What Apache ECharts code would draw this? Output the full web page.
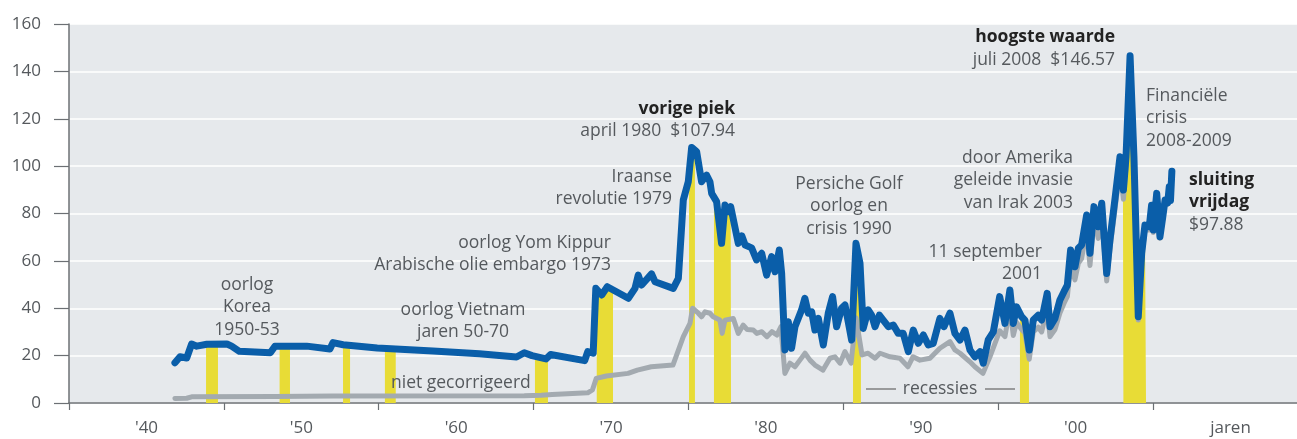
<!DOCTYPE html>
<html>
<head>
<meta charset="utf-8">
<script src="https://cdn.jsdelivr.net/npm/echarts@6.0.0/dist/echarts.min.js"></script>
<style>
  html, body { margin: 0; padding: 0; background: #fff; }
  #chart { width: 1297px; height: 439px; }
</style>
</head>
<body>
<div id="chart"></div>
<script>
// olieprijs gecorrigeerd voor inflatie (dollar), [jaar, prijs]
const realPrice = [
  [1946.84, 17.0], [1947.17, 19.5], [1947.6, 19.0], [1947.92, 24.9], [1948.25, 24.0], [1948.9, 24.8],
  [1950.2, 24.9], [1950.5, 24.0], [1951.0, 21.8], [1953.0, 21.2], [1953.3, 24.0], [1955.35, 24.0],
  [1956.85, 22.8], [1957.05, 25.5], [1957.7, 24.6], [1959.9, 23.2], [1963.5, 22.0], [1966.5, 20.8],
  [1968.9, 19.4], [1969.4, 21.2], [1969.9, 20.0], [1970.8, 18.6], [1971.1, 20.5], [1973.3, 17.9],
  [1973.5, 21.7], [1973.85, 21.0], [1974.02, 48.4], [1974.4, 45.6], [1974.76, 49.1], [1976.12, 44.2],
  [1976.55, 48.4], [1976.76, 54.0], [1976.98, 49.8], [1977.62, 54.5], [1977.84, 51.2], [1979.02, 48.4],
  [1979.35, 52.6], [1979.67, 85.7], [1979.99, 93.4], [1980.21, 107.9], [1980.53, 106.1], [1980.85, 93.4],
  [1981.17, 96.2], [1981.39, 93.4], [1981.5, 88.5], [1981.82, 85.0], [1982.14, 67.4], [1982.36, 83.6],
  [1982.57, 80.8], [1982.73, 82.9], [1983.22, 67.4], [1983.45, 70.5], [1983.66, 66.7], [1984.08, 65.5],
  [1984.4, 60.4], [1984.73, 63.2], [1985.05, 54.0], [1985.37, 61.8], [1985.59, 55.4], [1985.87, 64.6],
  [1986.02, 54.7], [1986.23, 22.4], [1986.45, 34.3], [1986.66, 23.1], [1986.88, 32.2], [1987.09, 35.7],
  [1987.31, 39.3], [1987.52, 44.2], [1987.74, 37.9], [1987.96, 38.5], [1988.17, 30.8], [1988.39, 35.7],
  [1988.71, 24.5], [1989.03, 37.9], [1989.31, 44.9], [1989.57, 32.2], [1989.89, 40.0], [1990.11, 41.4],
  [1990.32, 34.3], [1990.54, 26.6], [1990.82, 67.4], [1991.08, 59.0], [1991.29, 31.5], [1991.61, 39.3],
  [1991.83, 37.1], [1992.05, 32.2], [1992.33, 37.1], [1992.58, 35.0], [1992.91, 32.2], [1993.23, 32.9],
  [1993.55, 29.4], [1993.87, 29.4], [1994.2, 21.7], [1994.52, 30.8], [1994.84, 25.2], [1995.17, 28.7],
  [1995.49, 24.5], [1995.81, 25.2], [1996.24, 35.7], [1996.5, 32.2], [1996.89, 37.9], [1997.21, 29.4],
  [1997.54, 26.6], [1997.86, 30.8], [1998.18, 22.4], [1998.5, 19.5], [1998.83, 21.7], [1999.04, 16.8],
  [1999.36, 26.6], [1999.69, 30.0], [2000.1, 44.9], [2000.44, 33.6], [2000.76, 47.7], [2000.98, 33.6],
  [2001.19, 40.6], [2001.52, 36.4], [2001.73, 35.0], [2002.01, 22.4], [2002.27, 35.0], [2002.59, 37.1],
  [2002.81, 35.0], [2003.17, 46.3], [2003.35, 32.2], [2003.67, 35.7], [2003.99, 43.5], [2004.25, 47.0],
  [2004.47, 49.8], [2004.68, 64.6], [2004.96, 57.5], [2005.18, 65.3], [2005.39, 66.7], [2005.72, 79.4],
  [2005.93, 63.2], [2006.19, 82.9], [2006.47, 74.4], [2006.69, 84.3], [2007.01, 54.7], [2007.22, 68.8],
  [2007.55, 86.4], [2007.87, 104.0], [2008.09, 89.9], [2008.26, 104.0], [2008.52, 146.57], [2008.77, 104.0],
  [2009.05, 36.4], [2009.27, 63.2], [2009.48, 75.1], [2009.76, 74.4], [2009.91, 83.5], [2010.02, 73.0],
  [2010.24, 88.5], [2010.45, 70.2], [2010.62, 78.0], [2010.78, 85.7], [2010.95, 84.5], [2011.05, 91.3],
  [2011.13, 85.5], [2011.22, 97.88]
];

// niet gecorrigeerd (nominaal)
const nominalPrice = [
  [1946.84, 1.9], [1947.6, 2.0], [1947.92, 2.6], [1953.3, 2.7], [1957.05, 3.0], [1969.4, 3.1],
  [1970.5, 3.3], [1971.2, 3.6], [1973.5, 4.3], [1973.8, 5.5], [1974.05, 10.4], [1974.7, 11.4],
  [1976.1, 12.5], [1976.7, 13.9], [1977.6, 15.3], [1979.0, 16.0], [1979.67, 28.0], [1980.1, 33.6],
  [1980.27, 40.0], [1980.64, 37.9], [1980.85, 36.4], [1981.07, 38.5], [1981.39, 37.9], [1981.6, 36.4],
  [1982.03, 35.0], [1982.18, 29.4], [1982.36, 35.0], [1982.9, 35.7], [1983.22, 29.4], [1983.54, 32.9],
  [1983.8, 31.0], [1984.19, 30.8], [1984.42, 29.4], [1984.74, 30.1], [1985.07, 28.0], [1985.39, 30.1],
  [1985.71, 28.7], [1985.97, 32.2], [1986.23, 12.5], [1986.56, 16.8], [1986.88, 15.3], [1987.2, 18.1],
  [1987.53, 21.0], [1987.85, 18.1], [1988.17, 16.0], [1988.69, 13.9], [1989.14, 18.9], [1989.46, 19.5],
  [1989.79, 16.8], [1990.11, 21.7], [1990.5, 16.8], [1990.82, 36.0], [1991.21, 20.3], [1991.6, 21.0],
  [1992.05, 18.9], [1992.37, 21.0], [1993.02, 19.5], [1993.66, 18.9], [1994.18, 15.3], [1994.5, 19.5],
  [1994.95, 18.1], [1995.6, 18.9], [1996.24, 23.1], [1996.89, 25.9], [1997.21, 22.4], [1997.54, 21.0],
  [1998.18, 17.4], [1998.5, 15.3], [1999.02, 12.5], [1999.47, 19.5], [2000.1, 30.5], [2000.44, 28.0],
  [2000.76, 40.0], [2000.98, 28.5], [2001.19, 34.0], [2001.52, 31.0], [2001.73, 29.5], [2002.01, 18.5],
  [2002.27, 30.0], [2002.59, 32.0], [2002.81, 30.0], [2003.17, 40.0], [2003.35, 28.0], [2003.67, 31.0],
  [2003.99, 38.0], [2004.25, 42.0], [2004.47, 45.0], [2004.68, 58.0], [2004.96, 52.0], [2005.18, 59.0],
  [2005.39, 61.0], [2005.72, 73.0], [2005.93, 58.0], [2006.19, 77.0], [2006.47, 69.5], [2006.69, 79.0],
  [2007.01, 51.5], [2007.22, 65.0], [2007.55, 82.0], [2007.87, 99.0], [2008.09, 86.0], [2008.26, 100.0],
  [2008.52, 141.0], [2008.77, 101.0], [2009.05, 35.0], [2009.27, 61.5], [2009.48, 73.0], [2009.76, 73.0],
  [2009.91, 81.5], [2010.02, 72.0], [2010.24, 87.0], [2010.45, 69.5], [2010.62, 77.0], [2010.78, 85.0],
  [2010.95, 84.0], [2011.05, 91.0], [2011.13, 85.5], [2011.22, 97.5]
];

// recessies VS [begin, eind]
const recessions = [
  [1948.85, 1949.62], [1953.6, 1954.27], [1957.69, 1958.15], [1960.4, 1961.1], [1970.09, 1970.93],
  [1974.08, 1975.13], [1980.04, 1980.42], [1981.65, 1982.75], [1990.63, 1991.14], [2001.41, 2001.99],
  [2008.06, 2009.55]
];

const decadeLabels = ["'40", "'50", "'60", "'70", "'80", "'90", "'00", 'jaren'];

const FONT = '"Open Sans", Lato, sans-serif';
const GREY_TXT = '#55595d';
const DARK_TXT = '#222';

// waarde op de lijn op jaar x (lineair tussen de punten)
const valueAt = (data, x) => {
  for (let i = 0; i < data.length - 1; i++) {
    const [x0, y0] = data[i];
    const [x1, y1] = data[i + 1];
    if (x >= x0 && x <= x1) return y0 + (y1 - y0) * (x - x0) / (x1 - x0);
  }
  return 0;
};

// gele vlakken onder de lijn tijdens recessies
const recessionArea = [];
recessions.forEach(([a, b]) => {
  recessionArea.push([a, valueAt(realPrice, a)]);
  realPrice.forEach(p => { if (p[0] > a && p[0] < b) recessionArea.push(p); });
  recessionArea.push([b, valueAt(realPrice, b)]);
  recessionArea.push([b + 0.01, '-']);
});

// annotaties
const notes = [
  { x: 247, y: 285, align: 'center', lines: ['oorlog', 'Korea', '1950-53'] },
  { x: 463, y: 310, align: 'center', lines: ['oorlog Vietnam', 'jaren 50-70'] },
  { x: 391, y: 383, align: 'left', lines: ['niet gecorrigeerd'] },
  { x: 611, y: 243, align: 'right', lines: ['oorlog Yom Kippur', 'Arabische olie embargo 1973'] },
  { x: 672, y: 177, align: 'right', lines: ['Iraanse', 'revolutie 1979'] },
  { x: 735, y: 109, align: 'right', bold: 1, lines: ['vorige piek'] },
  { x: 735, y: 131, align: 'right', lines: ['april 1980  $107.94'] },
  { x: 849, y: 184, align: 'center', lines: ['Persiche Golf', 'oorlog en', 'crisis 1990'] },
  { x: 1042, y: 252, align: 'right', lines: ['11 september', '2001'] },
  { x: 1073, y: 158, align: 'right', lines: ['door Amerika', 'geleide invasie', 'van Irak 2003'] },
  { x: 1115, y: 37, align: 'right', bold: 1, lines: ['hoogste waarde'] },
  { x: 1115, y: 60, align: 'right', lines: ['juli 2008  $146.57'] },
  { x: 1146, y: 96, align: 'left', lines: ['Financiële', 'crisis', '2008-2009'] },
  { x: 1189, y: 180, align: 'left', bold: 1, lines: ['sluiting', 'vrijdag'] },
  { x: 1189, y: 225, align: 'left', lines: ['$97.88'] },
  { x: 940, y: 389, align: 'center', lines: ['recessies'] }
];

const graphic = [];
notes.forEach(n => {
  n.lines.forEach((t, i) => {
    graphic.push({
      type: 'text', x: n.x, y: n.y + i * 22.5, z: 100,
      style: {
        text: t, align: n.align, verticalAlign: 'middle',
        font: (n.bold ? 'bold 17.5px ' : '17.5px ') + FONT,
        fill: n.bold ? DARK_TXT : GREY_TXT
      }
    });
  });
});
// streepjes rond 'recessies'
[[866, 896], [985, 1015]].forEach(([x1, x2]) => {
  graphic.push({
    type: 'line', z: 100,
    shape: { x1, y1: 389, x2, y2: 389 },
    style: { stroke: '#666', lineWidth: 1.2 }
  });
});

const chart = echarts.init(document.getElementById('chart'));
chart.setOption({
  animation: false,
  backgroundColor: '#fff',
  textStyle: { fontFamily: FONT },
  grid: {
    left: 69, right: 0, top: 24, bottom: 36,
    show: true, backgroundColor: '#e6e9ec', borderWidth: 0
  },
  xAxis: {
    type: 'value', min: 1940, max: 2019.3, interval: 10,
    axisLine: { show: true, onZero: false, lineStyle: { color: '#6c7074', width: 1.5 } },
    axisTick: { show: true, length: 7, lineStyle: { color: '#6c7074', width: 1.2 } },
    splitLine: { show: false },
    axisLabel: {
      margin: 17, showMaxLabel: false, color: GREY_TXT, fontSize: 17, fontFamily: FONT,
      formatter: v => {
        const i = Math.round((v - 1940) / 10);
        if (Math.abs(v - 1940 - i * 10) > 0.01 || !decadeLabels[i]) return '';
        return '{d|' + decadeLabels[i] + '}';
      },
      rich: { d: { padding: [0, 0, 0, 155], fontSize: 17, color: GREY_TXT, fontFamily: FONT } }
    }
  },
  yAxis: {
    type: 'value', min: 0, max: 160, interval: 20,
    axisLine: { show: true, lineStyle: { color: '#6c7074', width: 1.5 } },
    axisTick: { show: true, length: 15, lineStyle: { color: '#6c7074', width: 1.2 } },
    splitLine: { show: true, lineStyle: { color: '#ffffff', width: 1.5 } },
    axisLabel: { margin: 28, color: GREY_TXT, fontSize: 17, fontFamily: FONT }
  },
  series: [
    {
      name: 'recessies', type: 'line', data: recessionArea, z: 1,
      symbol: 'none', connectNulls: false,
      lineStyle: { width: 0 },
      areaStyle: { color: '#e8dc36', opacity: 1 }
    },
    {
      name: 'niet gecorrigeerd', type: 'line', data: nominalPrice, z: 2,
      symbol: 'none',
      lineStyle: { color: '#a3aab0', width: 5, cap: 'round', join: 'round' }
    },
    {
      name: 'gecorrigeerd', type: 'line', data: realPrice, z: 3,
      symbol: 'none',
      lineStyle: { color: '#0a5ea9', width: 7, cap: 'round', join: 'round' }
    }
  ],
  graphic
});
</script>
</body>
</html>
